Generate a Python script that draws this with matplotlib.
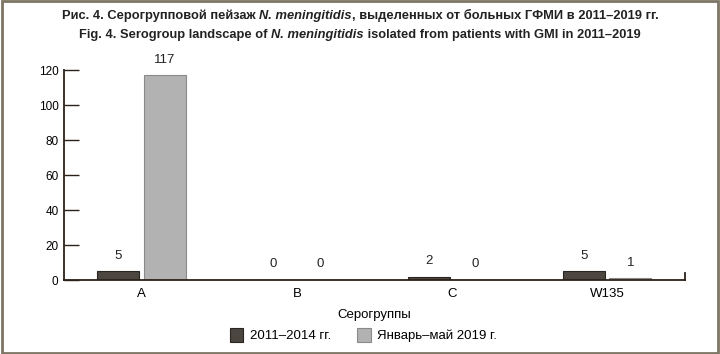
import numpy as np
import matplotlib.pyplot as plt
from matplotlib.patches import Rectangle

groups = ["A", "B", "C", "W135"]
s2011 = [5, 0, 2, 5]
s2019 = [117, 0, 0, 1]
labels = ["2011\u20132014 гг.", "Январь\u2013май 2019 г."]

dark = "#4b4640"
light = "#b2b2b2"
axcol = "#2b2119"

plt.rcParams['font.family'] = ['Liberation Sans', 'DejaVu Sans']

fig = plt.figure(figsize=(7.2, 3.54), dpi=100)
ax = fig.add_axes([0.089, 0.209, 0.862, 0.593])

x = np.arange(len(groups))
w = 0.27
b1 = ax.bar(x - w / 2 - 0.015, s2011, w, color=dark, edgecolor="#2a2520", linewidth=0.8, label=labels[0])
b2 = ax.bar(x + w / 2 + 0.015, s2019, w, color=light, edgecolor="#8a8a8a", linewidth=0.8, label=labels[1])

for bars, vals in [(b1, s2011), (b2, s2019)]:
    for r, v in zip(bars, vals):
        ax.annotate(str(v), (r.get_x() + r.get_width() / 2, v), xytext=(0, 7),
                    textcoords="offset points", ha="center", va="bottom",
                    fontsize=9.5, color="#222", clip_on=False)

ax.set_xlim(-0.5, 3.5)
ax.set_ylim(0, 120)
ax.set_yticks([0, 20, 40, 60, 80, 100, 120])
ax.set_xticks(x)
ax.set_xticklabels(groups, fontsize=9.5)
ax.tick_params(axis="x", length=0, pad=6)
ax.tick_params(axis="y", direction="in", length=11, width=1, color=axcol, labelsize=8.5, pad=4)
for s in ["top", "right"]:
    ax.spines[s].set_visible(False)
for s in ["left", "bottom"]:
    ax.spines[s].set_color(axcol)
    ax.spines[s].set_linewidth(1.3)
ax.axvline(3.5, ymax=0.035, color=axcol, lw=1.3, clip_on=False)

ax.set_xlabel("Серогруппы", fontsize=9.5, labelpad=6)

fig.legend(handles=[b1, b2], labels=labels, loc="center", bbox_to_anchor=(0.505, 0.053),
           ncol=2, frameon=False, fontsize=9.5, handlelength=1.0, handleheight=1.2,
           columnspacing=2.0, handletextpad=0.5)


def title_line(parts, y, size):
    # draw pieces of a line one after another, then centre the whole line
    r = fig.canvas.get_renderer()
    texts = []
    xpos = 0
    for s, style in parts:
        t = fig.text(0, y, s, fontsize=size, fontweight="bold", style=style,
                     va="center", ha="left", color="#222")
        texts.append(t)
        bb = t.get_window_extent(r)
        t.set_x(xpos)
        xpos += bb.width / fig.bbox.width
    shift = 0.5 - xpos / 2
    for t in texts:
        t.set_x(t.get_position()[0] + shift)


title_line([("Рис. 4. Серогрупповой пейзаж ", "normal"), ("N. meningitidis", "italic"),
            (", выделенных от больных ГФМИ в 2011\u20132019 гг.", "normal")], 0.955, 9.3)
title_line([("Fig. 4. Serogroup landscape of ", "normal"), ("N. meningitidis", "italic"),
            (" isolated from patients with GMI in 2011\u20132019", "normal")], 0.9, 9.3)

fig.patches.append(Rectangle((0.003, 0.004), 0.994, 0.992, transform=fig.transFigure,
                             fill=False, edgecolor="#7d7565", linewidth=2))

fig.savefig("out.png", dpi=100)
